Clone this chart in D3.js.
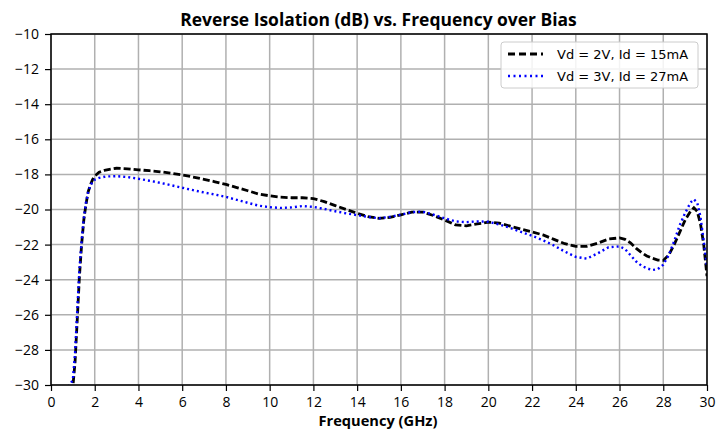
<!DOCTYPE html>
<html><head><meta charset="utf-8">
<script src="https://cdn.jsdelivr.net/npm/d3@7"></script>
<style>body{margin:0;background:#fff}svg{display:block}</style>
</head><body>
<svg id="c" width="727" height="434"></svg>
<script>
const freq = [0.8,1.0,1.1,1.2,1.3,1.4,1.5,1.6,1.7,1.8,1.9,2.0,2.2,2.5,3.0,3.5,4.0,4.5,5.0,5.5,6.0,6.5,7.0,7.5,8.0,8.5,9.0,9.5,10.0,10.5,11.0,11.5,12.0,12.5,13.0,13.5,14.0,14.5,15.0,15.5,16.0,16.5,17.0,17.5,18.0,18.5,19.0,19.5,20.0,20.5,21.0,21.5,22.0,22.5,23.0,23.5,24.0,24.5,25.0,25.5,26.0,26.25,26.5,26.75,27.0,27.25,27.5,27.75,28.0,28.25,28.5,28.75,29.0,29.25,29.4,29.55,29.7,29.85,30.0];
const vd2 = [-31,-30.1,-28.7,-26.3,-23.8,-22.0,-20.6,-19.7,-19.0,-18.6,-18.3,-18.1,-17.88,-17.75,-17.65,-17.68,-17.74,-17.79,-17.85,-17.93,-18.03,-18.15,-18.28,-18.42,-18.57,-18.75,-18.93,-19.12,-19.22,-19.3,-19.33,-19.33,-19.38,-19.55,-19.78,-20.0,-20.22,-20.4,-20.5,-20.45,-20.3,-20.15,-20.15,-20.35,-20.6,-20.88,-20.93,-20.82,-20.72,-20.78,-20.95,-21.12,-21.28,-21.45,-21.7,-21.95,-22.1,-22.1,-21.92,-21.68,-21.62,-21.7,-21.9,-22.2,-22.45,-22.65,-22.78,-22.88,-22.9,-22.6,-22.0,-21.3,-20.6,-20.1,-19.9,-20.1,-20.8,-22.0,-23.8];
const vd3 = [-30.1,-29.7,-28.2,-25.8,-23.4,-21.8,-20.5,-19.6,-19.0,-18.65,-18.42,-18.3,-18.2,-18.12,-18.1,-18.15,-18.25,-18.36,-18.48,-18.62,-18.76,-18.9,-19.03,-19.15,-19.28,-19.45,-19.62,-19.78,-19.87,-19.91,-19.88,-19.8,-19.85,-19.97,-20.1,-20.22,-20.32,-20.42,-20.5,-20.42,-20.3,-20.15,-20.12,-20.3,-20.5,-20.68,-20.72,-20.68,-20.7,-20.85,-21.05,-21.28,-21.5,-21.75,-22.05,-22.4,-22.7,-22.8,-22.5,-22.15,-22.1,-22.25,-22.6,-22.95,-23.2,-23.35,-23.45,-23.4,-23.15,-22.6,-21.8,-20.9,-20.2,-19.6,-19.42,-19.6,-20.4,-21.8,-23.3];
const xTicks = d3.range(0, 31, 2);
const yTicks = d3.range(-30, -9, 2);
const seriesNames = ["Vd = 2V, Id = 15mA", "Vd = 3V, Id = 27mA"];
const titleText = "Reverse Isolation (dB) vs. Frequency over Bias";
const xLabel = "Frequency (GHz)";

const W = 727, H = 434, m = {l:51, r:20, t:34, b:49};
const svg = d3.select("#c");
const x = d3.scaleLinear().domain([0,30]).range([m.l, W-m.r]);
const y = d3.scaleLinear().domain([-30,-10]).range([H-m.b, m.t]);
const font = "'Open Sans', Lato, sans-serif";

// grid
const g = svg.append("g");
g.selectAll(".gx").data(xTicks).join("line")
  .attr("x1", d=>x(d)).attr("x2", d=>x(d)).attr("y1", m.t).attr("y2", H-m.b)
  .attr("stroke", "#b0b0b0").attr("stroke-width", 1.5);
g.selectAll(".gy").data(yTicks).join("line")
  .attr("y1", d=>y(d)).attr("y2", d=>y(d)).attr("x1", m.l).attr("x2", W-m.r)
  .attr("stroke", "#b0b0b0").attr("stroke-width", 1.5);

// clip
svg.append("clipPath").attr("id","clip").append("rect")
  .attr("x", m.l).attr("y", m.t).attr("width", W-m.l-m.r).attr("height", H-m.t-m.b);

const line = d3.line().x(d=>x(d[0])).y(d=>y(d[1]));
const lg = svg.append("g").attr("clip-path","url(#clip)");
lg.append("path").datum(freq.map((f,i)=>[f, vd2[i]]))
  .attr("d", line).attr("fill","none").attr("stroke","#000").attr("stroke-width",2.8)
  .attr("stroke-dasharray","7,3");
lg.append("path").datum(freq.map((f,i)=>[f, vd3[i]]))
  .attr("d", line).attr("fill","none").attr("stroke","#0000ff").attr("stroke-width",2.4)
  .attr("stroke-dasharray","2,3");

// axes
const xa = svg.append("g").attr("transform", `translate(0,${H-m.b})`)
  .call(d3.axisBottom(x).tickValues(xTicks).tickSize(6).tickPadding(6).tickFormat(d3.format("d")));
const ya = svg.append("g").attr("transform", `translate(${m.l},0)`)
  .call(d3.axisLeft(y).tickValues(yTicks).tickSize(6).tickPadding(6).tickFormat(d3.format("d")));
[xa, ya].forEach(a => {
  a.select(".domain").remove();
  a.selectAll(".tick line").attr("stroke","#000").attr("stroke-width",1.2);
  a.selectAll(".tick text").attr("font-family", font).attr("font-size", 14).attr("fill","#000");
});
// frame
svg.append("rect").attr("x", m.l).attr("y", m.t).attr("width", W-m.l-m.r).attr("height", H-m.t-m.b)
  .attr("fill","none").attr("stroke","#000").attr("stroke-width",1.5);

// title & label, sized to fit measured widths
function fitText(t, target, startSize) {
  t.attr("font-size", startSize);
  const w = t.node().getComputedTextLength();
  t.attr("font-size", startSize * target / w);
}
const tt = svg.append("text").attr("x", 378.5).attr("y", 25.5).attr("text-anchor","middle")
  .attr("font-family", font).attr("font-weight","bold").text(titleText);
fitText(tt, 397, 16);
const xl = svg.append("text").attr("x", 378).attr("y", 426).attr("text-anchor","middle")
  .attr("font-family", font).attr("font-weight","bold").text(xLabel);
fitText(xl, 119, 14);

// legend
const leg = svg.append("g");
leg.append("rect").attr("x", 501).attr("y", 42).attr("width", 197).attr("height", 46).attr("rx", 3)
  .attr("fill","#fff").attr("fill-opacity",0.85).attr("stroke","#cccccc").attr("stroke-width",1);
const legStyles = [{c:"#000", w:2.8, da:"7,4"}, {c:"#0000ff", w:2.4, da:"2,3.5"}];
seriesNames.forEach((n,i) => {
  const yy = 54 + i*22;
  leg.append("line").attr("x1", 508).attr("x2", 543).attr("y1", yy).attr("y2", yy)
    .attr("stroke", legStyles[i].c).attr("stroke-width", legStyles[i].w).attr("stroke-dasharray", legStyles[i].da);
  leg.append("text").attr("x", 557).attr("y", yy+4.5).attr("font-family","'DejaVu Sans', sans-serif")
    .attr("font-size", 13).attr("fill","#000").text(n);
});
</script>
</body></html>
